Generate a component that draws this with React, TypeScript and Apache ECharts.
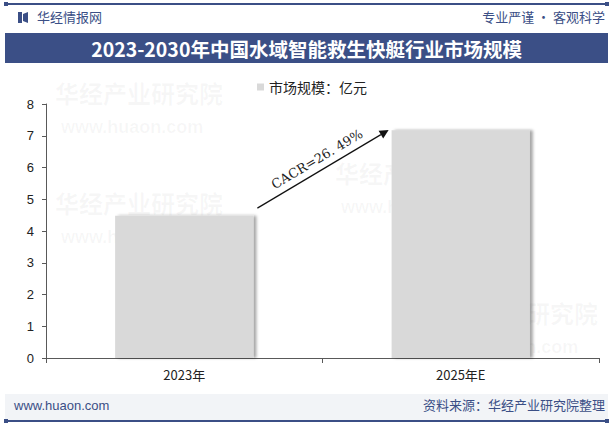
import React, { useEffect, useRef } from "react";
import * as echarts from "echarts";

const categories = ["2023年", "2025年E"];
const marketSize = [4.48, 7.17];
const seriesName = "市场规模：亿元";
const yTicks = { min: 0, max: 8, interval: 1 };
const titleText = "2023-2030年中国水域智能救生快艇行业市场规模";
const cagrText = "CACR=26. 49%";

const NAVY = "#3B4F86";

export default function App() {
  const ref = useRef<HTMLDivElement>(null);
  useEffect(() => {
    document.body.style.margin = "0";
    const chart = echarts.init(ref.current!, null, { renderer: "svg" });
    const wm = (x: number, y: number) => [
      {
        type: "text",
        left: x,
        top: y,
        silent: true,
        z: 0,
        style: { text: "华经产业研究院", fill: "rgba(120,120,120,0.06)", font: "bold 24px 'Noto Sans CJK SC'" },
      },
      {
        type: "text",
        left: x + 6,
        top: y + 38,
        silent: true,
        z: 0,
        style: { text: "www.huaon.com", fill: "rgba(120,120,120,0.06)", font: "bold 18px Arial" },
      },
    ];
    chart.setOption({
      animation: false,
      backgroundColor: "#fff",
      grid: { left: 46, right: 14, top: 104, bottom: 67, containLabel: false },
      legend: {
        data: [seriesName],
        top: 75,
        left: 252,
        itemWidth: 7,
        itemHeight: 7,
        icon: "rect",
        itemGap: 4,
        textStyle: { fontSize: 14, color: "#222", fontFamily: "'Noto Sans CJK SC'" },
      },
      xAxis: {
        type: "category",
        data: categories,
        axisLine: { lineStyle: { color: "#595959" } },
        axisTick: { show: true, length: 5, lineStyle: { color: "#595959" } },
        axisLabel: { fontSize: 13, color: "#222", margin: 10, fontFamily: "'Noto Sans CJK SC'" },
      },
      yAxis: {
        type: "value",
        ...yTicks,
        splitLine: { show: false },
        axisLine: { show: true, lineStyle: { color: "#595959" } },
        axisTick: { show: true, length: 4, lineStyle: { color: "#595959" } },
        axisLabel: { fontSize: 13, color: "#222", margin: 12, fontFamily: "Arial" },
      },
      series: [
        {
          name: seriesName,
          type: "bar",
          data: marketSize,
          barWidth: "50%",
          itemStyle: {
            color: "#D9D9D9",
            shadowColor: "rgba(0,0,0,0.35)",
            shadowBlur: 3,
            shadowOffsetX: 3,
            shadowOffsetY: 0,
          },
        },
      ],
    });

    const p1 = chart.convertToPixel({ seriesIndex: 0 }, [0, 4.72]) as number[];
    const p2 = chart.convertToPixel({ seriesIndex: 0 }, [1, 7.18]) as number[];
    const band = (chart.convertToPixel({ seriesIndex: 0 }, [1, 0]) as number[])[0] - p1[0];
    const x1 = p1[0] + band * 0.25 + 4;
    const x2 = p2[0] - band * 0.25 - 3;
    const y1 = p1[1];
    const y2 = p2[1];
    const ang = Math.atan2(y1 - y2, x2 - x1);
    const ah = 9;
    const aw = 4.5;
    const ux = Math.cos(ang);
    const uy = -Math.sin(ang);
    const bx = x2 - ux * ah;
    const by = y2 - uy * ah;
    const mx = (x1 + x2) / 2;
    const my = (y1 + y2) / 2;

    chart.setOption({
      graphic: [
        ...wm(55, 80),
        ...wm(335, 160),
        ...wm(55, 190),
        ...wm(430, 300),
        { type: "rect", shape: { x: 5, y: 3, width: 603, height: 2 }, style: { fill: NAVY } },
        { type: "rect", shape: { x: 4, y: 2, width: 4, height: 4 }, style: { fill: NAVY } },
        { type: "rect", shape: { x: 605, y: 2, width: 4, height: 4 }, style: { fill: NAVY } },
        { type: "rect", shape: { x: 18, y: 12, width: 4, height: 11 }, style: { fill: NAVY } },
        { type: "polygon", shape: { points: [[23, 14], [28, 12], [28, 23], [23, 21]] }, style: { fill: NAVY } },
        {
          type: "text",
          left: 37,
          top: 10,
          style: { text: "华经情报网", fill: NAVY, font: "13px 'Noto Sans CJK SC'" },
        },
        {
          type: "text",
          right: 8,
          top: 10,
          style: { text: "专业严谨 • 客观科学", fill: NAVY, font: "13px 'Noto Sans CJK SC'" },
        },
        { type: "rect", shape: { x: 5, y: 33, width: 603, height: 30 }, style: { fill: NAVY } },
        {
          type: "text",
          x: 306.5,
          y: 48,
          style: {
            text: titleText,
            fill: "#fff",
            font: "bold 19.5px 'Noto Sans CJK SC'",
            align: "center",
            verticalAlign: "middle",
          },
        },
        { type: "rect", shape: { x: 5, y: 394, width: 603, height: 26 }, style: { fill: "#F2F4F7" } },
        {
          type: "text",
          left: 14,
          top: 399,
          style: { text: "www.huaon.com", fill: NAVY, font: "13px Arial" },
        },
        {
          type: "text",
          right: 8,
          top: 398,
          style: { text: "资料来源：华经产业研究院整理", fill: NAVY, font: "13px 'Noto Sans CJK SC'" },
        },
        { type: "rect", shape: { x: 5, y: 420, width: 603, height: 2 }, style: { fill: NAVY } },
        { type: "rect", shape: { x: 4, y: 419, width: 4, height: 4 }, style: { fill: NAVY } },
        { type: "rect", shape: { x: 605, y: 419, width: 4, height: 4 }, style: { fill: NAVY } },
        {
          type: "line",
          z: 10,
          shape: { x1, y1, x2: bx, y2: by },
          style: { stroke: "#111", lineWidth: 1.2 },
        },
        {
          type: "polygon",
          z: 10,
          shape: {
            points: [
              [x2, y2],
              [bx - uy * aw, by + ux * aw],
              [bx + uy * aw, by - ux * aw],
            ],
          },
          style: { fill: "#111" },
        },
        {
          type: "text",
          z: 10,
          x: mx - 6,
          y: my - 10,
          rotation: ang,
          style: {
            text: cagrText,
            fill: "#222",
            font: "13px 'DejaVu Serif'",
            align: "center",
            verticalAlign: "middle",
          },
        },
      ],
    });
    return () => chart.dispose();
  }, []);
  return <div ref={ref} style={{ width: 613, height: 425 }} />;
}
